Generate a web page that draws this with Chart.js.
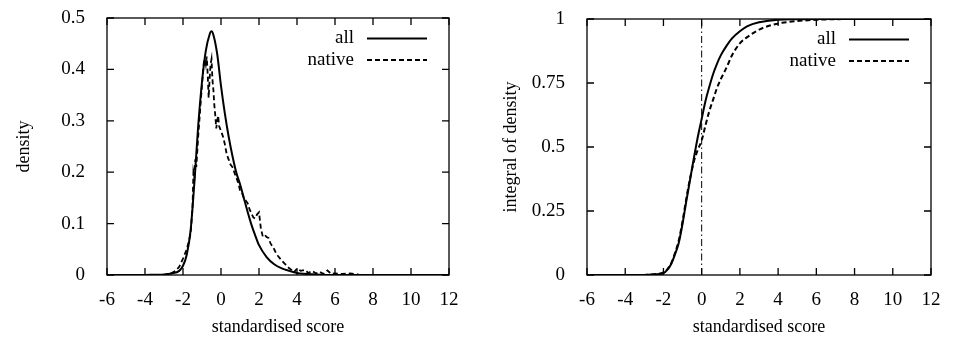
<!DOCTYPE html>
<html lang="en">
<head>
<meta charset="UTF-8">
<title>standardised score density</title>
<script src="https://cdn.jsdelivr.net/npm/chart.js"></script>
<style>
    body { margin: 0; background: #fff; }
    canvas { position: absolute; top: 0; }
    #densChart { left: 0; }
    #cdfChart { left: 476px; }
</style>
</head>
<body>

<canvas id="densChart" width="476" height="338"></canvas>
<canvas id="cdfChart" width="477" height="338"></canvas>

<script>
// x ticks shared by both panels
const xTicks = [-6, -4, -2, 0, 2, 4, 6, 8, 10, 12];
const densTicks = [0, 0.1, 0.2, 0.3, 0.4, 0.5];
const densTickLabels = ['0', '0.1', '0.2', '0.3', '0.4', '0.5'];
const cdfTicks = [0, 0.25, 0.5, 0.75, 1];
const cdfTickLabels = ['0', '0.25', '0.5', '0.75', '1'];

// left panel: density, all
const allX = [-6, -4, -3.5, -3, -2.6, -2.2, -2, -1.8, -1.6, -1.4, -1.2, -1, -0.8, -0.6, -0.5, -0.4, -0.2, 0,
    0.2, 0.4, 0.6, 0.8, 1, 1.2, 1.4, 1.6, 1.8, 2, 2.4, 2.8, 3.2, 3.6, 4, 5, 6, 12];
const allDensity = [0, 0, 0.0005, 0.001, 0.003, 0.008, 0.018, 0.04, 0.087, 0.18, 0.29, 0.376, 0.436, 0.468, 0.474, 0.467, 0.43, 0.368,
    0.315, 0.27, 0.232, 0.2, 0.177, 0.15, 0.123, 0.098, 0.077, 0.058, 0.035, 0.021, 0.013, 0.008, 0.004, 0.001, 0, 0];

// left panel: density, native (noisy)
const nativeX = [-6, -3, -2.6, -2.4, -2.2, -2, -1.8, -1.7, -1.6, -1.5, -1.45, -1.4, -1.35, -1.3, -1.2, -1.1, -1, -0.9, -0.85, -0.8,
    -0.75, -0.7, -0.65, -0.6, -0.55, -0.5, -0.45, -0.4, -0.35, -0.3, -0.25, -0.2, -0.15, -0.1, 0, 0.1, 0.2, 0.3, 0.4, 0.5,
    0.6, 0.7, 0.8, 0.9, 1, 1.1, 1.2, 1.3, 1.4, 1.5, 1.6, 1.7, 1.8, 1.9, 2, 2.1, 2.2, 2.3, 2.4, 2.5,
    2.6, 2.7, 2.8, 2.9, 3, 3.2, 3.4, 3.5, 3.7, 3.8, 4, 4.2, 4.4, 4.6, 4.8, 5, 5.2, 5.4, 5.6, 5.8,
    6, 6.4, 6.8, 7.2, 7.3];
const nativeDensity = [0, 0, 0.004, 0.008, 0.016, 0.032, 0.05, 0.065, 0.08, 0.13, 0.2, 0.19, 0.225, 0.21, 0.27, 0.32, 0.37, 0.415, 0.42, 0.41,
    0.425, 0.39, 0.345, 0.38, 0.41, 0.42, 0.38, 0.36, 0.33, 0.31, 0.285, 0.3, 0.31, 0.29, 0.28, 0.27, 0.255, 0.235, 0.225, 0.215,
    0.21, 0.2, 0.19, 0.18, 0.165, 0.16, 0.15, 0.145, 0.14, 0.128, 0.12, 0.112, 0.11, 0.118, 0.122, 0.09, 0.075, 0.078, 0.074, 0.072,
    0.062, 0.056, 0.05, 0.042, 0.037, 0.028, 0.02, 0.016, 0.01, 0.004, 0.012, 0.008, 0.01, 0.004, 0.008, 0.003, 0.006, 0.002, 0.009, 0.002,
    0.003, 0.002, 0.003, 0.001, 0];

// right panel: integral of density
const cdfAllX = [-6, -3, -2.5, -2, -1.8, -1.6, -1.4, -1.2, -1, -0.8, -0.6, -0.4, -0.2, 0, 0.2, 0.4, 0.6, 0.8, 1, 1.3, 1.6, 2, 2.4, 3, 3.5, 4, 5, 6, 12];
const cdfAll = [0, 0, 0.002, 0.007, 0.02, 0.042, 0.08, 0.125, 0.2, 0.29, 0.375, 0.46, 0.54, 0.61, 0.68, 0.735, 0.785, 0.825, 0.858, 0.895, 0.925, 0.952, 0.972, 0.987, 0.993, 0.997, 0.999, 1, 1];
const cdfNativeX = [-6, -3, -2.5, -2, -1.8, -1.6, -1.4, -1.2, -1, -0.8, -0.6, -0.4, -0.2, 0, 0.2, 0.4, 0.6, 0.8, 1, 1.3, 1.6, 2, 2.4, 2.8, 3.2, 3.7, 4.2, 5, 6, 7, 8, 12];
const cdfNative = [0, 0, 0.003, 0.01, 0.022, 0.045, 0.085, 0.135, 0.21, 0.3, 0.38, 0.445, 0.49, 0.525, 0.585, 0.64, 0.685, 0.73, 0.765, 0.81, 0.86, 0.905, 0.93, 0.95, 0.965, 0.977, 0.985, 0.992, 0.997, 0.999, 1, 1];

// vertical marker at zero in right panel
const markerX = [0, 0];
const markerY = [0, 1];

const pts = (xs, ys) => xs.map((x, i) => ({x: x, y: ys[i]}));

Chart.defaults.color = '#000';
Chart.defaults.font.family = '"Liberation Serif", "DejaVu Serif", serif';
Chart.defaults.font.size = 19;
Chart.defaults.animation = false;

// frame with inward ticks on all four sides
const framePlugin = {
    id: 'frame',
    afterDraw(chart) {
        const {ctx, chartArea: a, scales: {x, y}} = chart;
        const yTicks = chart.options.yTickValues;
        ctx.save();
        ctx.strokeStyle = '#000';
        ctx.lineWidth = 1.3;
        ctx.strokeRect(a.left, a.top, a.right - a.left, a.bottom - a.top);
        ctx.beginPath();
        xTicks.forEach(v => {
            const px = x.getPixelForValue(v);
            ctx.moveTo(px, a.bottom); ctx.lineTo(px, a.bottom - 7);
            ctx.moveTo(px, a.top); ctx.lineTo(px, a.top + 7);
        });
        yTicks.forEach(v => {
            const py = y.getPixelForValue(v);
            ctx.moveTo(a.left, py); ctx.lineTo(a.left + 7, py);
            ctx.moveTo(a.right, py); ctx.lineTo(a.right - 7, py);
        });
        ctx.stroke();
        ctx.restore();
    }
};

// gnuplot style key, top right inside the plot
const keyPlugin = {
    id: 'key',
    afterDraw(chart) {
        const {ctx, chartArea: a} = chart;
        const items = [
            {label: 'all', dash: [], y: a.top + 20.5},
            {label: 'native', dash: [5, 3], y: a.top + 42}
        ];
        ctx.save();
        ctx.font = '19px "Liberation Serif", serif';
        ctx.fillStyle = '#000';
        ctx.textAlign = 'right';
        ctx.textBaseline = 'middle';
        items.forEach(it => {
            ctx.fillText(it.label, a.right - 95, it.y);
            ctx.beginPath();
            ctx.setLineDash(it.dash);
            ctx.lineWidth = 2;
            ctx.strokeStyle = '#000';
            ctx.moveTo(a.right - 82, it.y);
            ctx.lineTo(a.right - 22, it.y);
            ctx.stroke();
        });
        ctx.restore();
    }
};

function makeScales(yMin, yMax, yTicks, yLabels, yTitle, yWidth, yTitlePad) {
    return {
        x: {
            type: 'linear',
            min: -6, max: 12,
            afterBuildTicks: s => { s.ticks = xTicks.map(v => ({value: v})); },
            afterFit: s => { s.height = 63; },
            grid: {display: false},
            border: {display: false},
            ticks: {padding: 6, maxRotation: 0, callback: v => String(v)},
            title: {display: true, text: 'standardised score', font: {size: 18}, padding: {top: 0, bottom: 0}}
        },
        y: {
            type: 'linear',
            min: yMin, max: yMax,
            afterBuildTicks: s => { s.ticks = yTicks.map(v => ({value: v})); },
            afterFit: s => { s.width = yWidth; s.paddingTop = 0; s.paddingBottom = 0; },
            grid: {display: false},
            border: {display: false},
            ticks: {padding: 14, callback: v => yLabels[yTicks.indexOf(v)]},
            title: {display: true, text: yTitle, font: {size: 18}, padding: {top: yTitlePad, bottom: 0}}
        }
    };
}

const lineStyle = {borderColor: '#000', borderWidth: 2, pointRadius: 0, fill: false};

new Chart(document.getElementById('densChart'), {
    type: 'line',
    data: {
        datasets: [
            {label: 'all', data: pts(allX, allDensity), ...lineStyle, cubicInterpolationMode: 'monotone'},
            {label: 'native', data: pts(nativeX, nativeDensity), ...lineStyle, borderDash: [5, 3], borderWidth: 1.8}
        ]
    },
    options: {
        responsive: false,
        yTickValues: densTicks,
        layout: {padding: {top: 18, right: 27, left: 0, bottom: 0}},
        plugins: {legend: {display: false}, tooltip: {enabled: false}},
        scales: makeScales(0, 0.5, densTicks, densTickLabels, 'density', 107, 13)
    },
    plugins: [framePlugin, keyPlugin]
});

new Chart(document.getElementById('cdfChart'), {
    type: 'line',
    data: {
        datasets: [
            {label: 'all', data: pts(cdfAllX, cdfAll), ...lineStyle, cubicInterpolationMode: 'monotone'},
            {label: 'native', data: pts(cdfNativeX, cdfNative), ...lineStyle, borderDash: [5, 3], cubicInterpolationMode: 'monotone'},
            {label: 'zero', data: pts(markerX, markerY), borderColor: '#000', borderWidth: 1, pointRadius: 0, borderDash: [7, 3, 1.5, 3]}
        ]
    },
    options: {
        responsive: false,
        yTickValues: cdfTicks,
        layout: {padding: {top: 19, right: 22, left: 0, bottom: 0}},
        plugins: {legend: {display: false}, tooltip: {enabled: false}},
        scales: makeScales(0, 1, cdfTicks, cdfTickLabels, 'integral of density', 111, 24)
    },
    plugins: [framePlugin, keyPlugin]
});
</script>
</body>
</html>
